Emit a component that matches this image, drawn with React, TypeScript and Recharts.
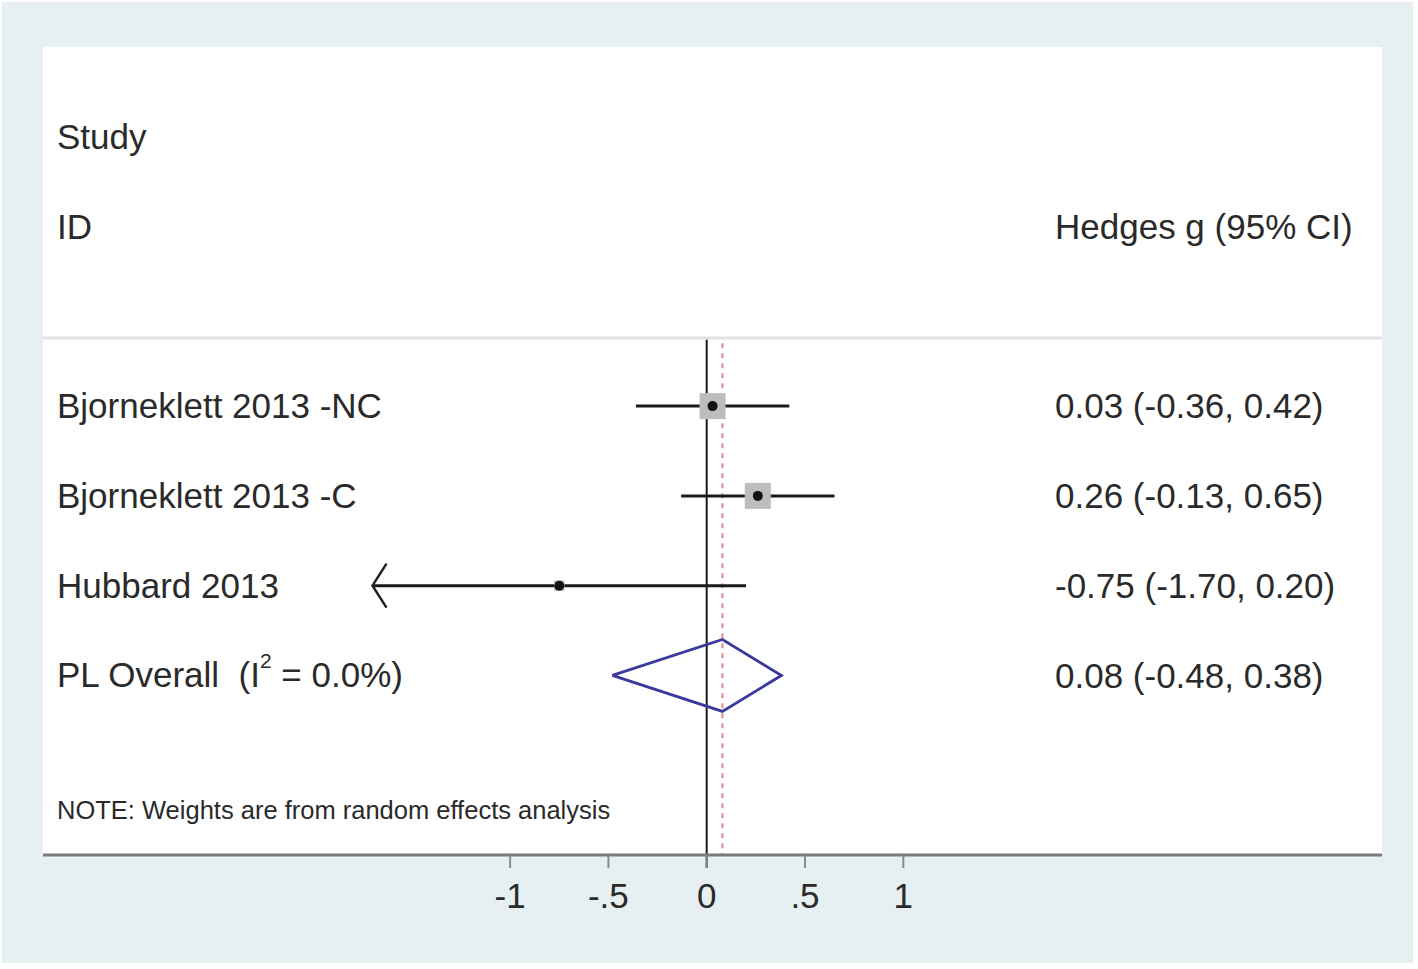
import React from 'react';
import {
  ComposedChart,
  XAxis,
  YAxis,
  Scatter,
  ReferenceLine,
  CartesianGrid,
} from 'recharts';

// ---------- data ----------
const studies = ['Bjorneklett 2013 -NC', 'Bjorneklett 2013 -C', 'Hubbard 2013'];
const effect = [0.03, 0.26, -0.75];
const lower = [-0.36, -0.13, -1.7];
const upper = [0.42, 0.65, 0.2];
const weights = [46.3, 46.3, 7.4];

const overallName = 'PL Overall';
const overallI2 = '0.0%';
const overallEst = 0.08;
const overallLo = -0.48;
const overallHi = 0.38;

const xTicks = [-1, -0.5, 0, 0.5, 1];
const xTickLabels = ['-1', '-.5', '0', '.5', '1'];

const headerStudy = 'Study';
const headerId = 'ID';
const headerEffect = 'Hedges g (95% CI)';
const noteText = 'NOTE: Weights are from random effects analysis';

// ---------- layout ----------
const W = 1418;
const H = 969;
const X_DOMAIN: [number, number] = [-3.376, 3.435];
const Y_DOMAIN: [number, number] = [-1, 8];
const FONT = '"Liberation Sans", Arial, Helvetica, sans-serif';
const TEXT = '#2a2a2a';
const LEFT_COL = 57;
const RIGHT_COL = 1055;
const ROW_TOP = 4; // first study row
const OVERALL_ROW = 1;
const HEAD1_ROW = 7;
const HEAD2_ROW = 6;
const SEP_ROW = 4.76;
const NOTE_ROW = -0.5;
const MAX_BOX = 26;

const fmt = (v: number) => v.toFixed(2);
const ciText = (e: number, l: number, u: number) => `${fmt(e)} (${fmt(l)}, ${fmt(u)})`;

const rowOf = (i: number) => ROW_TOP - i;

const labelData = [
  { x: 0, y: HEAD1_ROW, text: headerStudy, col: 'L' },
  { x: 0, y: HEAD2_ROW, text: headerId, col: 'L' },
  { x: 0, y: HEAD2_ROW, text: headerEffect, col: 'R' },
  ...studies.map((s, i) => ({ x: 0, y: rowOf(i), text: s, col: 'L' })),
  ...studies.map((s, i) => ({ x: 0, y: rowOf(i), text: ciText(effect[i], lower[i], upper[i]), col: 'R' })),
  { x: 0, y: OVERALL_ROW, text: overallName, col: 'L', overall: true },
  { x: 0, y: OVERALL_ROW, text: ciText(overallEst, overallLo, overallHi), col: 'R' },
  { x: 0, y: NOTE_ROW, text: noteText, col: 'L', small: true },
];

const maxW = Math.max(...weights);
const pointData = studies.map((s, i) => ({ x: effect[i], y: rowOf(i), w: weights[i] }));
const arrowData = studies
  .map((s, i) => ({ x: lower[i], y: rowOf(i), clipped: lower[i] < xTicks[0] }))
  .filter((d) => d.clipped);

const diamondData = [
  { x: overallLo, y: OVERALL_ROW },
  { x: overallEst, y: OVERALL_ROW + 0.4 },
  { x: overallHi, y: OVERALL_ROW },
  { x: overallEst, y: OVERALL_ROW - 0.4 },
  { x: overallLo, y: OVERALL_ROW },
];

const LabelShape = (props: any) => {
  const { cy, payload } = props;
  const x = payload.col === 'L' ? LEFT_COL : RIGHT_COL;
  if (payload.overall) {
    return (
      <text x={x} y={cy} dy={12} fontSize={35} fill={TEXT} fontFamily={FONT} style={{ whiteSpace: 'pre' }}>
        {`${payload.text}  (I`}
        <tspan dy={-19} fontSize={21}>2</tspan>
        <tspan dy={19} fontSize={35}>{` = ${overallI2})`}</tspan>
      </text>
    );
  }
  const fs = payload.small ? 25.5 : 35;
  return (
    <text x={x} y={cy} dy={fs * 0.35} fontSize={fs} fill={TEXT} fontFamily={FONT} style={{ whiteSpace: 'pre' }}>
      {payload.text}
    </text>
  );
};

const PointShape = (props: any) => {
  const { cx, cy, payload } = props;
  const side = MAX_BOX * Math.sqrt(payload.w / maxW);
  return (
    <g>
      <rect x={cx - side / 2} y={cy - side / 2} width={side} height={side} fill="#bdbdbd" />
      <circle cx={cx} cy={cy} r={5} fill="#111" />
    </g>
  );
};

const ArrowShape = (props: any) => {
  const { cx, cy } = props;
  return (
    <polyline
      points={`${cx + 14},${cy - 22} ${cx},${cy} ${cx + 14},${cy + 22}`}
      fill="none"
      stroke="#222"
      strokeWidth={2.5}
    />
  );
};

const Empty = () => <g />;

export default function App() {
  return (
    <div style={{ position: 'absolute', left: 0, top: 0, width: W, height: H, background: '#ffffff' }}>
      <div style={{ position: 'absolute', left: 2, top: 2, width: 1411, height: 961, background: '#e6eff1' }} />
      <div style={{ position: 'absolute', left: 0, top: 0 }}>
        <ComposedChart width={W} height={H} margin={{ top: 47, right: 36, left: 43, bottom: 0 }}>
          <CartesianGrid fill="#ffffff" horizontal={false} vertical={false} stroke="none" />
          <XAxis
            type="number"
            dataKey="x"
            domain={X_DOMAIN}
            allowDataOverflow
            ticks={xTicks}
            interval={0}
            height={114}
            tickFormatter={(v: number) => xTickLabels[xTicks.indexOf(v)] ?? String(v)}
            axisLine={{ stroke: '#7a7a7a', strokeWidth: 3 }}
            tickLine={{ stroke: '#8a8a8a', strokeWidth: 2 }}
            tickSize={13}
            tickMargin={15}
            tick={{ fill: TEXT, fontSize: 35, fontFamily: FONT }}
          />
          <YAxis type="number" dataKey="y" domain={Y_DOMAIN} allowDataOverflow hide />
          <ReferenceLine y={SEP_ROW} stroke="#e2e2e2" strokeWidth={3} />
          <ReferenceLine
            segment={[{ x: 0, y: SEP_ROW - 0.02 }, { x: 0, y: -1.145 }]}
            stroke="#1a1a1a"
            strokeWidth={2}
            ifOverflow="visible"
          />
          <ReferenceLine
            segment={[{ x: overallEst, y: SEP_ROW - 0.06 }, { x: overallEst, y: Y_DOMAIN[0] }]}
            stroke="#d98a8c"
            strokeWidth={2}
            strokeDasharray="5 5"
          />
          {studies.map((s, i) => (
            <ReferenceLine
              key={s}
              segment={[{ x: lower[i], y: rowOf(i) }, { x: upper[i], y: rowOf(i) }]}
              stroke="#1a1a1a"
              strokeWidth={3}
            />
          ))}
          <Scatter data={pointData} shape={PointShape} isAnimationActive={false} />
          <Scatter data={arrowData} shape={ArrowShape} isAnimationActive={false} />
          <Scatter
            data={diamondData}
            shape={Empty}
            line={{ stroke: '#3a3a9e', strokeWidth: 2.8 }}
            lineType="joint"
            isAnimationActive={false}
          />
          <Scatter data={labelData} shape={LabelShape} isAnimationActive={false} />
        </ComposedChart>
      </div>
    </div>
  );
}
